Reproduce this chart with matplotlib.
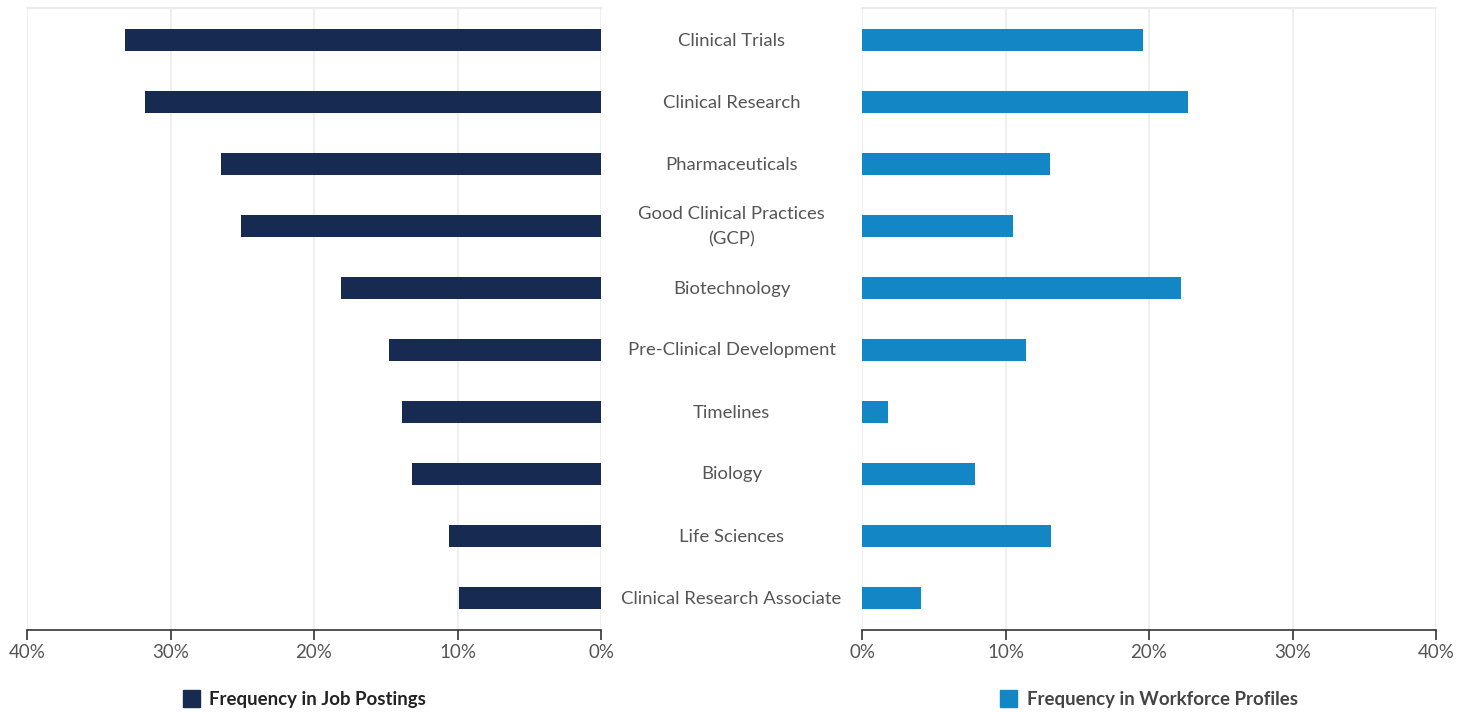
import matplotlib.pyplot as plt
from matplotlib.ticker import FuncFormatter
from matplotlib.patches import Rectangle

skills = ['Clinical Trials', 'Clinical Research', 'Pharmaceuticals',
          'Good Clinical Practices\n(GCP)', 'Biotechnology',
          'Pre-Clinical Development', 'Timelines', 'Biology',
          'Life Sciences', 'Clinical Research Associate']
job_postings = [33.2, 31.8, 26.5, 25.1, 18.1, 14.8, 13.9, 13.2, 10.6, 9.9]
workforce = [19.6, 22.7, 13.1, 10.5, 22.2, 11.4, 1.8, 7.9, 13.2, 4.1]
ticks = [0, 10, 20, 30, 40]

navy = '#172a52'
blue = '#1387c6'
grid = '#ececec'
txt = '#555555'

plt.rcParams['font.family'] = ['Lato', 'DejaVu Sans']

fig = plt.figure(figsize=(14.71, 7.12), dpi=100)
W, H = 1471, 712
ax_l = fig.add_axes([27 / W, 1 - 630 / H, 574 / W, 622 / H])
ax_r = fig.add_axes([862 / W, 1 - 630 / H, 574 / W, 622 / H])

pos = list(range(len(skills)))
ax_l.barh(pos, job_postings, height=0.355, color=navy, zorder=3)
ax_r.barh(pos, workforce, height=0.355, color=blue, zorder=3)

pct = FuncFormatter(lambda v, p: f'{v:.0f}%')
for ax in (ax_l, ax_r):
    ax.set_xlim(0, 40)
    ax.set_ylim(9.52, -0.52)
    ax.set_xticks(ticks)
    ax.xaxis.set_major_formatter(pct)
    ax.set_yticks([])
    ax.grid(axis='x', color=grid, linewidth=1.2, zorder=0)
    for side in ('left', 'right'):
        ax.spines[side].set_visible(False)
    ax.spines['top'].set_color(grid)
    ax.spines['top'].set_linewidth(1.5)
    ax.spines['bottom'].set_color('#333333')
    ax.spines['bottom'].set_linewidth(1.2)
    ax.tick_params(axis='x', length=7, width=1.2, color='#333333',
                   labelsize=13.5, labelcolor=txt, pad=3)
ax_l.invert_xaxis()

for i, name in enumerate(skills):
    fig.text((601 + 862) / 2 / W, 1 - (40.5 + 62 * i) / H, name,
             ha='center', va='center', fontsize=13.3, color=txt,
             linespacing=1.75)

fig.patches.append(Rectangle((183 / W, 1 - 707 / H), 17 / W, 17 / H,
                             transform=fig.transFigure, color=navy))
fig.text(209 / W, 1 - 699 / H, 'Frequency in Job Postings', ha='left',
         va='center', fontsize=13.4, fontweight='bold', color='#222222')
fig.patches.append(Rectangle((1000 / W, 1 - 707 / H), 17 / W, 17 / H,
                             transform=fig.transFigure, color=blue))
fig.text(1027 / W, 1 - 699 / H, 'Frequency in Workforce Profiles',
         ha='left', va='center', fontsize=13.4, fontweight='bold',
         color='#444444')

fig.savefig('out.png', dpi=100)
